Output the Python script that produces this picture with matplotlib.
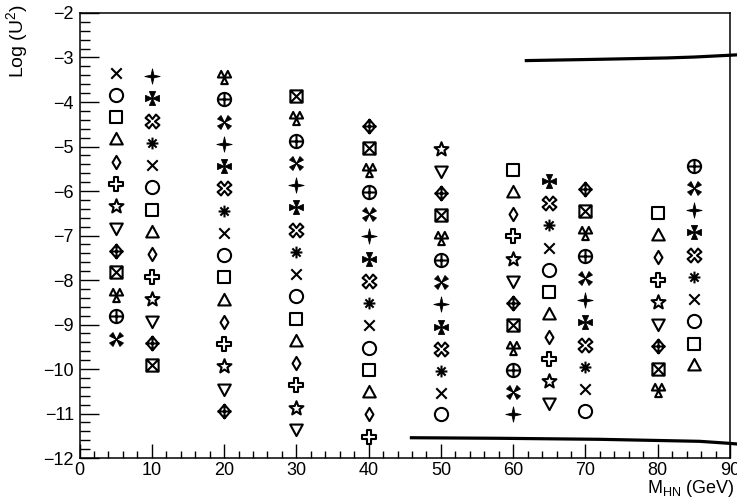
import matplotlib
matplotlib.use('Agg')
import matplotlib.pyplot as plt
from matplotlib.path import Path
from matplotlib.ticker import MultipleLocator
import numpy as np

plt.rcParams['font.family'] = ['Liberation Sans', 'DejaVu Sans']
plt.rcParams['mathtext.fontset'] = 'custom'
plt.rcParams['mathtext.rm'] = 'Liberation Sans'
plt.rcParams['mathtext.it'] = 'Liberation Sans:italic'

# heavy neutrino mass points (GeV) and the log(U^2) values scanned at each
masses = [5, 10, 20, 30, 40, 50, 60, 65, 70, 80, 85]
logu2_m5 = [-3.35, -3.85, -4.34, -4.84, -5.35, -5.85, -6.34, -6.84, -7.34, -7.83, -8.33, -8.82, -9.33]
logu2_m10 = [-3.42, -3.92, -4.42, -4.92, -5.42, -5.92, -6.42, -6.92, -7.42, -7.93, -8.43, -8.92, -9.42, -9.92]
logu2_m20 = [-3.44, -3.94, -4.44, -4.94, -5.44, -5.94, -6.44, -6.94, -7.44, -7.94, -8.44, -8.94,
             -9.44, -9.94, -10.44, -10.94]
logu2_m30 = [-3.87, -4.37, -4.87, -5.37, -5.87, -6.37, -6.87, -7.37, -7.87, -8.37, -8.87, -9.37,
             -9.87, -10.37, -10.87, -11.35]
logu2_m40 = [-4.53, -5.03, -5.53, -6.03, -6.52, -7.02, -7.52, -8.02, -8.52, -9.02, -9.52, -10.02,
             -10.52, -11.02, -11.52]
logu2_m50 = [-5.05, -5.55, -6.05, -6.55, -7.05, -7.55, -8.05, -8.55, -9.05, -9.55, -10.05, -10.55, -11.02]
logu2_m60 = [-5.52, -6.02, -6.52, -7.02, -7.52, -8.02, -8.52, -9.02, -9.52, -10.02, -10.52, -11.0]
logu2_m65 = [-5.77, -6.27, -6.77, -7.27, -7.77, -8.27, -8.77, -9.27, -9.77, -10.27, -10.76]
logu2_m70 = [-5.95, -6.45, -6.95, -7.45, -7.95, -8.45, -8.95, -9.45, -9.95, -10.45, -10.94]
logu2_m80 = [-6.49, -6.99, -7.49, -7.99, -8.49, -8.99, -9.49, -9.99, -10.48]
logu2_m85 = [-5.43, -5.93, -6.43, -6.93, -7.43, -7.93, -8.43, -8.93, -9.43, -9.92]
columns = [logu2_m5, logu2_m10, logu2_m20, logu2_m30, logu2_m40, logu2_m50,
           logu2_m60, logu2_m65, logu2_m70, logu2_m80, logu2_m85]

# limit curves
upper_x = [61.6, 72.0, 81.3, 85.0, 89.9, 91.0]
upper_y = [-3.07, -3.04, -3.01, -2.99, -2.95, -2.94]
lower_x = [45.7, 58.2, 72.0, 85.8, 89.9, 91.0]
lower_y = [-11.544, -11.557, -11.58, -11.625, -11.67, -11.685]


def closed(pts):
    verts = list(pts) + [pts[0]]
    codes = [Path.MOVETO] + [Path.LINETO] * (len(pts) - 1) + [Path.CLOSEPOLY]
    return Path(verts, codes)


def segs(*lines):
    verts, codes = [], []
    for a, b in lines:
        verts += [a, b]
        codes += [Path.MOVETO, Path.LINETO]
    return Path(verts, codes)


def compound(*paths):
    return Path.make_compound_path(*paths)


def star(n, r_in, rot=90):
    pts = []
    for k in range(2 * n):
        a = np.deg2rad(rot + k * 180.0 / n)
        r = 1.0 if k % 2 == 0 else r_in
        pts.append((r * np.cos(a), r * np.sin(a)))
    return closed(pts)


square = closed([(-1, -1), (1, -1), (1, 1), (-1, 1)])
diamond = closed([(0, 1), (0.85, 0), (0, -1), (-0.85, 0)])
circle = Path.unit_circle()
plus_lines = segs(((-1, 0), (1, 0)), ((0, -1), (0, 1)))
x_lines = segs(((-1, -1), (1, 1)), ((-1, 1), (1, -1)))
a = 0.33
open_cross = closed([(-a, 1), (a, 1), (a, a), (1, a), (1, -a), (a, -a), (a, -1), (-a, -1),
                     (-a, -a), (-1, -a), (-1, a), (-a, a)])
three_tri = compound(closed([(0, 0), (-0.5, 1), (-1, 0)]),
                     closed([(0, 0), (-0.5, -1), (0.5, -1)]),
                     closed([(0, 0), (1, 0), (0.5, 1)]))
four_tri_x = compound(closed([(0, 0), (0.5, 1), (1, 0.5)]),
                      closed([(0, 0), (1, -0.5), (0.5, -1)]),
                      closed([(0, 0), (-0.5, -1), (-1, -0.5)]),
                      closed([(0, 0), (-1, 0.5), (-0.5, 1)]))
four_tri_plus = compound(closed([(0, 0), (-0.45, 1), (0.45, 1)]),
                         closed([(0, 0), (1, 0.45), (1, -0.45)]),
                         closed([(0, 0), (0.45, -1), (-0.45, -1)]),
                         closed([(0, 0), (-1, -0.45), (-1, 0.45)]))
open_four_x = closed([(0, 0.35), (0.5, 1), (1, 0.5), (0.35, 0), (1, -0.5), (0.5, -1),
                      (0, -0.35), (-0.5, -1), (-1, -0.5), (-0.35, 0), (-1, 0.5), (-0.5, 1)])
double_diamond = closed([(0, 1), (0.18, 0.18), (1, 0), (0.18, -0.18), (0, -1), (-0.18, -0.18),
                         (-1, 0), (-0.18, 0.18)])
asterisk = segs(((-1, 0), (1, 0)), ((0, -1), (0, 1)), ((-0.7, -0.7), (0.7, 0.7)),
                ((-0.7, 0.7), (0.7, -0.7)))

# (path, filled, size in points)
marker_cycle = [
    (x_lines, False, 7.5),
    (circle, False, 9.5),
    (square, False, 8.8),
    (closed([(0, 1), (0.95, -0.75), (-0.95, -0.75)]), False, 9.5),
    (closed([(0, 1), (0.6, 0), (0, -1), (-0.6, 0)]), False, 9.5),
    (open_cross, False, 9.5),
    (star(5, 0.42), False, 10.5),
    (closed([(0, -1), (0.95, 0.75), (-0.95, 0.75)]), False, 9.5),
    (compound(diamond, plus_lines), False, 10),
    (compound(square, x_lines), False, 8.8),
    (three_tri, False, 9.5),
    (compound(circle, plus_lines), False, 9.5),
    (four_tri_x, True, 10),
    (double_diamond, True, 11),
    (four_tri_plus, True, 10),
    (open_four_x, False, 10),
    (asterisk, False, 8.5),
]

fig = plt.figure(figsize=(7.37, 4.98), dpi=100)
ax = fig.add_axes([0.1079, 0.0803, 0.8826, 0.8936])

idx = 0
for m, ys in zip(masses, columns):
    for y in ys:
        path, filled, size = marker_cycle[idx % len(marker_cycle)]
        ax.plot([m], [y], ls='none', marker=path, ms=size,
                mfc='black' if filled else 'none', mec='black',
                mew=0.6 if filled else 1.5, clip_on=False, zorder=3)
        idx += 1

ax.plot(upper_x, upper_y, color='black', lw=2.3, clip_on=False, solid_capstyle='butt')
ax.plot(lower_x, lower_y, color='black', lw=2.3, clip_on=False, solid_capstyle='butt')

ax.set_xlim(0, 90)
ax.set_ylim(-12, -2)
ax.xaxis.set_major_locator(MultipleLocator(10))
ax.xaxis.set_minor_locator(MultipleLocator(2))
ax.yaxis.set_major_locator(MultipleLocator(1))
ax.yaxis.set_minor_locator(MultipleLocator(0.2))
ax.tick_params(axis='both', which='both', direction='in', top=False, right=False,
               labelsize=13, width=1.0, color='black')
ax.tick_params(axis='y', which='major', length=13.5, pad=4)
ax.tick_params(axis='y', which='minor', length=7)
ax.tick_params(axis='x', which='major', length=10, pad=3)
ax.tick_params(axis='x', which='minor', length=5)
for s in ax.spines.values():
    s.set_linewidth(1.1)

# axis titles, ROOT style: y title at the top end, x title at the right end
fig.text(17 / 737, 1 - 4 / 498, 'Log (U$^{2}$)', fontsize=14, rotation=90,
         ha='center', va='top')
ax.set_xlabel(r'M$_{\mathrm{HN}}$ (GeV)', fontsize=13, loc='right')
ax.xaxis.set_label_coords(1.008, -0.069)
ax.xaxis.label.set_va('center')

fig.savefig('out.png', dpi=100)
